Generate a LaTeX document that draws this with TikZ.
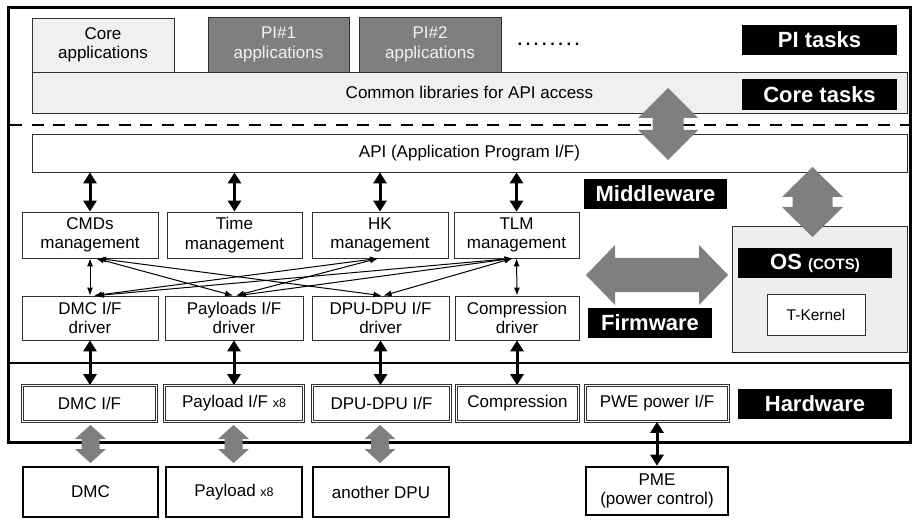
\documentclass[tikz,border=0pt]{standalone}
\usepackage{fontspec}
\setmainfont{Liberation Sans}
\usetikzlibrary{arrows.meta,calc}
\definecolor{lgray}{HTML}{F0F0F0}
\definecolor{osgray}{HTML}{EEEEEE}
\definecolor{dgray}{HTML}{7F7F7F}
\definecolor{bordc}{HTML}{303030}
\newcommand{\gvarr}[6]{\fill[dgray] (#1,#2) -- (#1+#4,#2+#6) -- (#1+#5,#2+#6) -- (#1+#5,#3-#6) -- (#1+#4,#3-#6) -- (#1,#3) -- (#1-#4,#3-#6) -- (#1-#5,#3-#6) -- (#1-#5,#2+#6) -- (#1-#4,#2+#6) -- cycle;}
\newcommand{\gharr}[6]{\fill[dgray] (#1,#3) -- (#1+#6,#3-#4) -- (#1+#6,#3-#5) -- (#2-#6,#3-#5) -- (#2-#6,#3-#4) -- (#2,#3) -- (#2-#6,#3+#4) -- (#2-#6,#3+#5) -- (#1+#6,#3+#5) -- (#1+#6,#3+#4) -- cycle;}
\tikzset{
  box/.style={draw=bordc, line width=0.8pt, fill=white, inner sep=0pt, align=center,
    font=\fontsize{17}{19.5}\selectfont},
  lbl/.style={fill=black, text=white, inner sep=0pt, font=\fontsize{22}{24}\selectfont\bfseries},
  hwbox/.style={box, draw=bordc, double=white, double distance=1.6pt, line width=0.7pt},
  extbox/.style={box, draw=black, line width=2.6pt},
  tharrow/.style={{Triangle[width=13pt,length=11pt]}-{Triangle[width=13pt,length=11pt]}, line width=3pt},
  tnarrow/.style={{Latex[width=6pt,length=8pt]}-{Latex[width=6pt,length=8pt]}, line width=1pt},
}
\begin{document}
\begin{tikzpicture}[x=1pt,y=-1pt]
\useasboundingbox (0,0) rectangle (915,521);
% outer frame
\draw[line width=3pt] (8,8) rectangle (910,442);
% top layer
\node[box, fill=lgray, minimum width=142pt, minimum height=54pt] (core) at (103,45) {Core\\applications};
\node[box, fill=dgray, text=white!95!black, minimum width=141pt, minimum height=55pt] (pi1) at (278.5,44.5) {PI\#1\\applications};
\node[box, fill=dgray, text=white!95!black, minimum width=142pt, minimum height=55pt] (pi2) at (430,44.5) {PI\#2\\applications};
\node[anchor=base, inner sep=0pt, font=\fontsize{16.5}{19}\selectfont\bfseries] (dots) at (548.5,46) {.\kern3.6pt.\kern3.6pt.\kern3.6pt.\kern3.6pt.\kern3.6pt.\kern3.6pt.\kern3.6pt.};
\node[lbl, minimum width=155pt, minimum height=30pt] (pitasks) at (819.5,40) {PI tasks};
\node[box, fill=lgray, minimum width=875pt, minimum height=41pt] (lib) at (469.5,92.5) {Common libraries for API access};
\node[lbl, minimum width=155pt, minimum height=31pt] (coretasks) at (819.5,94.5) {Core tasks};
% dashed separator
\draw[line width=2pt, dash pattern=on 12pt off 9.7pt] (10,125) -- (910,125);
% API
\node[box, minimum width=875pt, minimum height=38pt] (api) at (469.5,153) {API (Application Program I/F)};
\node[lbl, minimum width=143pt, minimum height=30pt] (middleware) at (655.5,194) {Middleware};
% management
\node[box, minimum width=136pt, minimum height=46pt] (cmds) at (90,235) {CMDs\\management};
\node[box, minimum width=135pt, minimum height=46pt] (time) at (234.5,235) {Time\\management};
\node[box, minimum width=136pt, minimum height=46pt] (hk) at (380,235) {HK\\management};
\node[box, minimum width=125pt, minimum height=46pt] (tlm) at (516.5,235) {TLM\\management};
% drivers
\node[box, minimum width=136pt, minimum height=44pt] (dmcd) at (90,318) {DMC I/F\\driver};
\node[box, minimum width=138pt, minimum height=44pt] (payd) at (234,318) {Payloads I/F\\driver};
\node[box, minimum width=137pt, minimum height=44pt] (dpud) at (380.5,318) {DPU-DPU I/F\\driver};
\node[box, minimum width=124pt, minimum height=44pt] (compd) at (517,318) {Compression\\driver};
\node[lbl, minimum width=124pt, minimum height=30pt] (firmware) at (650,323) {Firmware};
% OS
\node[box, fill=osgray, draw=bordc, minimum width=175pt, minimum height=126pt] (os) at (819.5,289) {};
\node[lbl, minimum width=154pt, minimum height=30pt] (oslabel) at (815,263) {OS {\fontsize{15}{17}\selectfont (COTS)}};
\node[box, minimum width=98pt, minimum height=41pt, font=\fontsize{15.5}{18}\selectfont] (tkernel) at (816,314.5) {T-Kernel};
% hardware separator
\draw[line width=2.2pt] (8,363) -- (910,363);
% hardware boxes
\node[hwbox, minimum width=134pt, minimum height=36pt] (dmchw) at (89.5,403.5) {DMC I/F};
\node[hwbox, minimum width=139pt, minimum height=36pt] (payhw) at (234,403.5) {Payload I/F {\fontsize{12.5}{14}\selectfont x8}};
\node[hwbox, minimum width=138pt, minimum height=36pt] (dpuhw) at (381.5,403.5) {DPU-DPU I/F};
\node[hwbox, minimum width=122pt, minimum height=36pt] (comphw) at (517.5,403.5) {Compression};
\node[hwbox, minimum width=143pt, minimum height=36pt] (pwehw) at (657,403.5) {PWE power I/F};
\node[lbl, minimum width=154pt, minimum height=30pt] (hardware) at (815,404) {Hardware};
% external boxes
\node[extbox, minimum width=135pt, minimum height=50pt] (dmcx) at (90.5,492) {DMC};
\node[extbox, minimum width=136pt, minimum height=50pt] (payx) at (234,492) {Payload {\fontsize{12.5}{14}\selectfont x8}};
\node[extbox, minimum width=136pt, minimum height=50pt] (dpux) at (381,492) {another DPU};
\node[extbox, minimum width=142pt, minimum height=48pt] (pme) at (657,491) {PME\\(power control)};
% thick black arrows
\draw[tharrow] (api.south -| cmds.north) -- (cmds.north);
\draw[tharrow] (api.south -| time.north) -- (time.north);
\draw[tharrow] (api.south -| hk.north) -- (hk.north);
\draw[tharrow] (api.south -| tlm.north) -- (tlm.north);
\draw[tharrow] (dmcd.south) -- (dmcd.south |- dmchw.north);
\draw[tharrow] (payd.south) -- (payd.south |- payhw.north);
\draw[tharrow] (dpud.south) -- (dpud.south |- dpuhw.north);
\draw[tharrow] (compd.south) -- (compd.south |- comphw.north);
\draw[tharrow] (pwehw.south) -- (pwehw.south |- pme.north);
% thin arrows
\draw[tnarrow] (cmds.south) -- (dmcd.north);
\draw[tnarrow] ($(cmds.south)+(6,0)$) -- ($(payd.north)+(-1,0)$);
\draw[tnarrow] ($(cmds.south)+(8,0)$) -- ($(dpud.north)+(1,0)$);
\draw[tnarrow] ($(hk.south)+(-2,0)$) -- ($(dmcd.north)+(4,0)$);
\draw[tnarrow] ($(hk.south)+(-2,0)$) -- ($(payd.north)+(2,0)$);
\draw[tnarrow] ($(tlm.south)+(-4,0)$) -- ($(dmcd.north)+(6,0)$);
\draw[tnarrow] ($(tlm.south)+(-4,0)$) -- ($(payd.north)+(4,0)$);
\draw[tnarrow] ($(tlm.south)+(-4,0)$) -- ($(dpud.north)+(3,0)$);
\draw[tnarrow] (tlm.south) -- (compd.north);
% gray block arrows
\gvarr{668}{88}{160}{30}{15.5}{30}
\gvarr{812.5}{167}{237}{30.5}{20}{30}
\gharr{586}{728}{275}{30}{17}{29}
\gvarr{90.5}{425}{463}{15.5}{9}{14}
\gvarr{233.5}{425}{463}{15.5}{9}{14}
\gvarr{380}{425}{463}{15.5}{9}{14}
\end{tikzpicture}
\end{document}
